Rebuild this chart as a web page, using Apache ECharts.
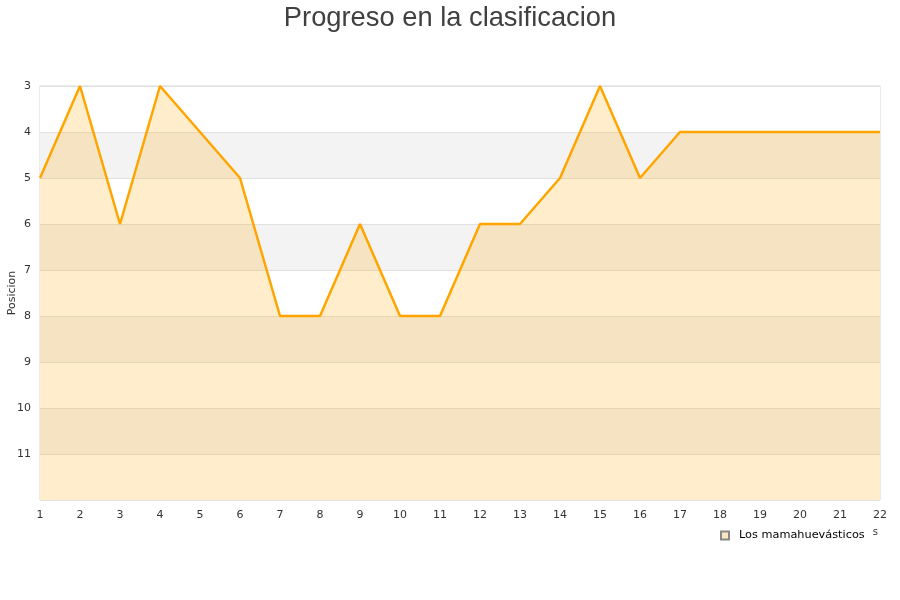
<!DOCTYPE html>
<html>
<head>
<meta charset="utf-8">
<script src="https://cdn.jsdelivr.net/npm/echarts@6/dist/echarts.min.js"></script>
<style>html,body{margin:0;padding:0;background:#fff}#c{width:900px;height:600px}</style>
</head>
<body>
<div id="c"></div>
<script>
const jornadas = ['1','2','3','4','5','6','7','8','9','10','11','12','13','14','15','16','17','18','19','20','21','22'];
const posiciones = [5,3,6,3,4,5,8,8,6,8,8,6,6,5,3,5,4,4,4,4,4,4];
const serieNombre = 'Los mamahuevásticos';
const titulo = 'Progreso en la clasificacion';

const chart = echarts.init(document.getElementById('c'));
chart.setOption({
  animation: false,
  backgroundColor: '#fff',
  title: {
    text: titulo, left: 'center', top: 0,
    textStyle: {fontFamily: 'Liberation Sans', fontSize: 27.3, fontWeight: 'normal', color: '#404040'}
  },
  legend: {
    data: [{name: serieNombre, icon: 'rect'}],
    left: 712, top: 526,
    itemWidth: 8, itemHeight: 8, itemGap: 6,
    backgroundColor: '#fff', padding: [4, 8, 4, 8],
    textStyle: {fontFamily: 'DejaVu Sans', fontSize: 11.3, color: '#000', padding: [0, 0, 0, 5]}
  },
  grid: {left: 40, right: 20, top: 86, bottom: 100, outerBoundsMode: 'none', containLabel: false, show: true, borderColor: '#d8d8d8', borderWidth: 1, z: 0},
  xAxis: {
    type: 'category', data: jornadas, boundaryGap: false,
    name: 'jornadas', nameLocation: 'end', nameGap: 0, nameMoveOverlap: false,
    nameTextStyle: {fontFamily: 'DejaVu Sans', fontSize: 10, color: '#333', align: 'right', verticalAlign: 'top', padding: [27, 2, 0, 0]},
    axisLine: {show: false}, axisTick: {show: false},
    axisLabel: {fontFamily: 'DejaVu Sans', fontSize: 11, color: '#333', margin: 10},
    splitLine: {show: false}
  },
  yAxis: {
    type: 'value', inverse: true, min: 3, max: 12, interval: 1,
    name: 'Posicion', nameLocation: 'middle', nameGap: 22, nameRotate: 90, nameMoveOverlap: false,
    nameTextStyle: {fontFamily: 'DejaVu Sans', fontSize: 11, color: '#333'},
    axisLine: {show: false}, axisTick: {show: false},
    axisLabel: {fontFamily: 'DejaVu Sans', fontSize: 11, color: '#333', margin: 9, showMaxLabel: false},
    splitLine: {show: true, lineStyle: {color: '#e0e0e0', width: 1}},
    splitArea: {show: true, areaStyle: {color: ['#ffffff', '#f3f3f3']}}
  },
  series: [{
    name: serieNombre, type: 'line', data: posiciones,
    showSymbol: false, symbol: 'none',
    lineStyle: {color: '#ffa500', width: 2.5},
    itemStyle: {color: '#fbe7c4', borderColor: '#888', borderWidth: 1},
    areaStyle: {color: '#ffa500', opacity: 0.2, origin: 'end'}
  }]
});
</script>
</body>
</html>
